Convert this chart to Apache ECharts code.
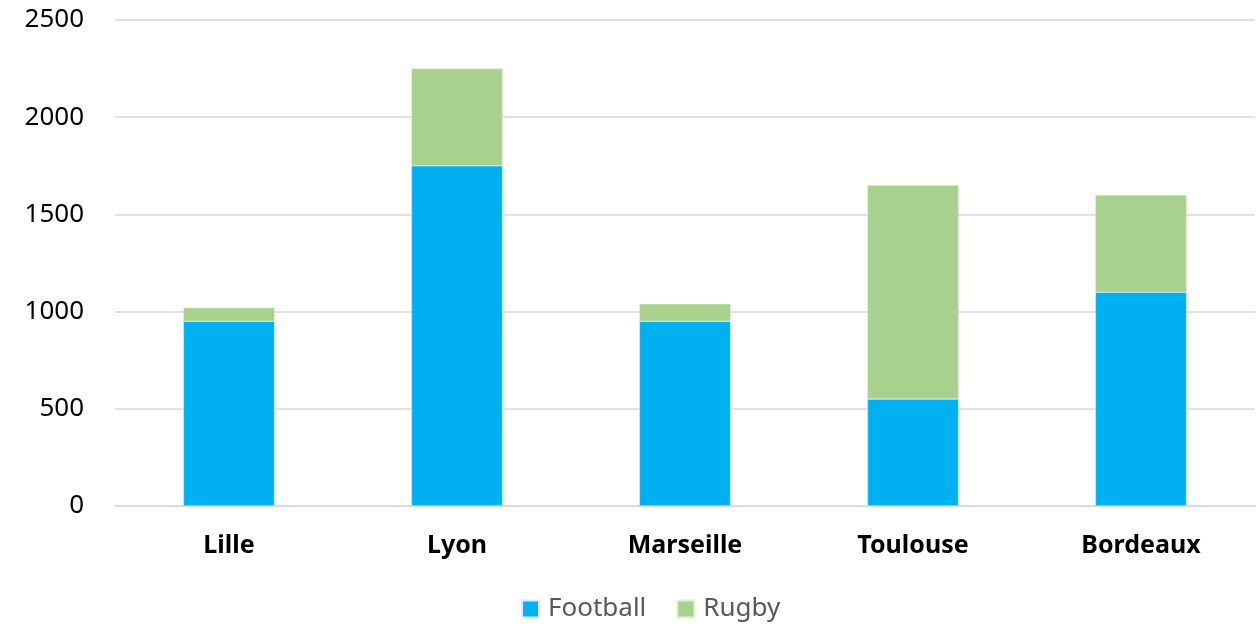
<!DOCTYPE html>
<html>
<head>
<meta charset="utf-8">
<script src="https://cdn.jsdelivr.net/npm/echarts@6/dist/echarts.min.js"></script>
<style>
  html, body { margin: 0; padding: 0; background: #fff; }
  #chart { width: 1260px; height: 624px; }
</style>
</head>
<body>
<div id="chart"></div>
<script>
// villes et effectifs
var cities = ['Lille', 'Lyon', 'Marseille', 'Toulouse', 'Bordeaux'];
var football = [950, 1750, 950, 550, 1100];
var rugby = [70, 500, 90, 1100, 500];
var seriesNames = ['Football', 'Rugby'];

var chart = echarts.init(document.getElementById('chart'));
var font = '"Noto Sans", sans-serif';

var option = {
    animation: false,
    color: ['#00B0F0', '#A9D18E'],
    textStyle: { fontFamily: font },
    grid: { left: 115, right: 5, top: 20, bottom: 118 },
    legend: {
        data: seriesNames,
        top: 591,
        left: 516,
        itemWidth: 17,
        itemHeight: 17,
        itemGap: 30,
        icon: 'rect',
        textStyle: { fontSize: 26, color: '#595959', fontFamily: font, padding: [0, 0, 0, 4] }
    },
    xAxis: {
        type: 'category',
        data: cities,
        axisTick: { show: false },
        axisLine: { lineStyle: { color: '#d9d9d9', width: 1.5 } },
        axisLabel: { fontSize: 25, fontWeight: 'bold', color: '#000', margin: 27, fontFamily: font }
    },
    yAxis: {
        type: 'value',
        min: 0,
        max: 2500,
        interval: 500,
        axisLine: { show: false },
        axisTick: { show: false },
        splitLine: { lineStyle: { color: '#d9d9d9', width: 1.5 } },
        axisLabel: {
            fontSize: 26, color: '#000', margin: 31, fontFamily: font,
            formatter: function (v) { return String(v); }
        }
    },
    series: [
        {
            name: seriesNames[0],
            type: 'bar',
            stack: 'total',
            data: football,
            barWidth: '40%',
            itemStyle: { borderColor: '#d6f0fb', borderWidth: 0.5 }
        },
        {
            name: seriesNames[1],
            type: 'bar',
            stack: 'total',
            data: rugby,
            barWidth: '40%',
            itemStyle: { borderColor: '#e1eed8', borderWidth: 0.5 }
        }
    ]
};

chart.setOption(option);
</script>
</body>
</html>
